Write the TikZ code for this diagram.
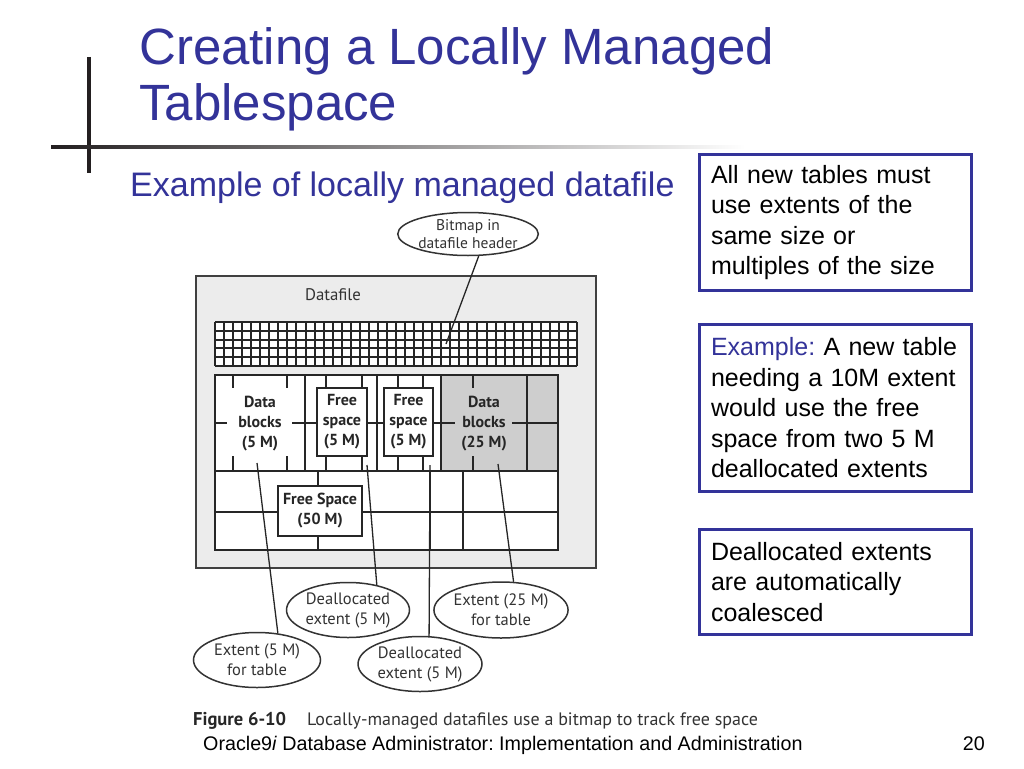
\documentclass[tikz,border=0pt]{standalone}
\usepackage{fontspec}
\setmainfont{Liberation Sans}
\newfontfamily\figfont{PT Sans}
\usetikzlibrary{shapes.geometric}
\definecolor{tblue}{RGB}{51,51,153}
\definecolor{dfgray}{RGB}{236,236,236}
\definecolor{blkgray}{RGB}{206,206,206}
\definecolor{ink}{RGB}{35,31,32}
\frenchspacing
\hyphenpenalty=10000
\begin{document}
\begin{tikzpicture}[x=1pt,y=-1pt,
  gridline/.style={line width=2pt,draw=black!85},
  bl/.style={line width=1.8pt,draw=black!85},
  fsbox/.style={draw=black!85,line width=1.8pt,fill=white,inner sep=0pt,align=center,
    font=\figfont\bfseries\fontsize{16}{20}\selectfont,text=black!85},
  blabel/.style={inner sep=0pt,align=center,font=\figfont\bfseries\fontsize{16}{20}\selectfont,text=black!85},
  oval/.style={ellipse,draw=black!80,fill=white,line width=1.5pt,inner sep=0pt,align=center,
    font=\figfont\fontsize{16.5}{20}\selectfont,text=black!80},
  lead/.style={line width=1.3pt,draw=black!85},
  rbox/.style={draw=tblue,line width=3pt,fill=white,inner xsep=11.5pt,inner ysep=0pt,
    text width=249pt,align=left,minimum width=272pt,font=\fontsize{25}{30.5}\selectfont}]
\useasboundingbox (0,0) rectangle (1024,768);
\fill[white] (0,0) rectangle (1024,768);

% title
\node[anchor=base west,inner sep=0,text=tblue,font=\fontsize{51}{56}\selectfont] (t1) at (139,64) {Creating a Locally Managed};
\node[anchor=base west,inner sep=0,text=tblue,font=\fontsize{51}{56}\selectfont] (t2) at (139,120) {Tablespace};
\draw[line width=3.3pt,ink] (89,57) -- (89,173);
\shade[left color=ink,right color=white] (51,145.3) rectangle (745,148.7);
\node[anchor=base west,inner sep=0,text=tblue,font=\fontsize{34}{40}\selectfont] (sub) at (130,196) {Example of locally managed datafile};

% datafile
\draw[line width=1.5pt,draw=black!75,fill=dfgray] (196,276) rectangle (596,568);
\node[inner sep=0,font=\figfont\fontsize{16.8}{18}\selectfont,text=black!80] (dflabel) at (333,295) {Datafile};

% bitmap grid
\fill[white] (215,322) rectangle (577,366);
\foreach \i in {0,...,40} \draw[gridline] ({215+\i*9.05},322) -- ({215+\i*9.05},366);
\foreach \j in {0,...,5} \draw[gridline] (215,{322+\j*8.8}) -- (577,{322+\j*8.8});

% blocks
\fill[white] (215,375) rectangle (558,550);
\fill[blkgray] (441,375) rectangle (558,471);
\draw[bl] (215,375) rectangle (558,550);
\draw[bl] (215,471) -- (558,471);
\foreach \x in {305,377,441,527} \draw[bl] (\x,375) -- (\x,471);
\foreach \x in {233,287,326,362,398,423,473} {\draw[bl] (\x,375) -- (\x,388); \draw[bl] (\x,456) -- (\x,471);}
\draw[bl] (215,423) -- (227,423);
\draw[bl] (292,423) -- (317,423);
\draw[bl] (367,423) -- (384,423);
\draw[bl] (433,423) -- (455,423);
\draw[bl] (512,423) -- (558,423);
\draw[bl] (215,512) -- (278,512);
\draw[bl] (362,512) -- (558,512);
\draw[bl] (318,471) -- (318,486);
\draw[bl] (318,536) -- (318,550);
\draw[bl] (430,471) -- (430,550);
\draw[bl] (463,471) -- (463,550);

\node[blabel] (db5) at (260,424) {Data\\blocks\\(5 M)};
\node[fsbox,minimum width=50pt,minimum height=68pt] (fs1) at (342,422) {Free\\space\\(5 M)};
\node[fsbox,minimum width=49pt,minimum height=68pt] (fs2) at (408.5,422) {Free\\space\\(5 M)};
\node[blabel] (db25) at (484,424) {Data\\blocks\\(25 M)};
\node[fsbox,minimum width=84pt,minimum height=50pt] (fs50) at (320,511) {Free Space\\(50 M)};

% callouts
\node[oval,minimum width=134pt,minimum height=43pt,font=\figfont\fontsize{15.5}{18}\selectfont] (bmp) at (468,234) {Bitmap in\\datafile header};
\node[oval,minimum width=123pt,minimum height=55pt] (deal1) at (348,610) {Deallocated\\extent (5 M)};
\node[oval,minimum width=124pt,minimum height=56pt] (ext25) at (501,610) {Extent (25 M)\\for table};
\node[oval,minimum width=127pt,minimum height=55pt] (ext5) at (257,660) {Extent (5 M)\\for table};
\node[oval,minimum width=124pt,minimum height=55pt] (deal2) at (420,664) {Deallocated\\extent (5 M)};

\coordinate (p1) at (257,463);
\coordinate (p2) at (367,465);
\coordinate (p3) at (430,465);
\coordinate (p4) at (498,464);
\coordinate (p5) at (446,344);
\draw[lead] (p1) -- (ext5.52);
\draw[lead] (p2) -- (deal1.41);
\draw[lead] (p3) -- (deal2.72);
\draw[lead] (p4) -- (ext25.66);
\draw[lead] (bmp.-64) -- (p5);

% caption
\node[anchor=base west,inner sep=0,font=\figfont\bfseries\fontsize{18.5}{20}\selectfont,text=black!85] (figno) at (193,725) {Figure 6-10};
\node[anchor=base west,inner sep=0,font=\figfont\fontsize{18}{20}\selectfont,text=black!80] (figcap) at (307,725) {Locally-managed datafiles use a bitmap to track free space};

% right boxes
\node[rbox,minimum height=136pt] (r1) at (835.5,222.5) {All new tables must\\use extents of the\\same size or\\multiples of the size};
\node[rbox,minimum height=167pt] (r2) at (835.5,408) {\textcolor{tblue}{Example:} A new table\\needing a 10M extent\\would use the free\\space from two 5 M\\deallocated extents};
\node[rbox,minimum height=105pt] (r3) at (835.5,582) {Deallocated extents\\are automatically\\coalesced};

% footer
\node[anchor=base west,inner sep=0,font=\fontsize{19.7}{22}\selectfont] (foot) at (203,750) {Oracle9\textit{i} Database Administrator: Implementation and Administration};
\node[anchor=base east,inner sep=0,font=\fontsize{19.7}{22}\selectfont] (pg) at (985,750) {20};
\end{tikzpicture}
\end{document}
